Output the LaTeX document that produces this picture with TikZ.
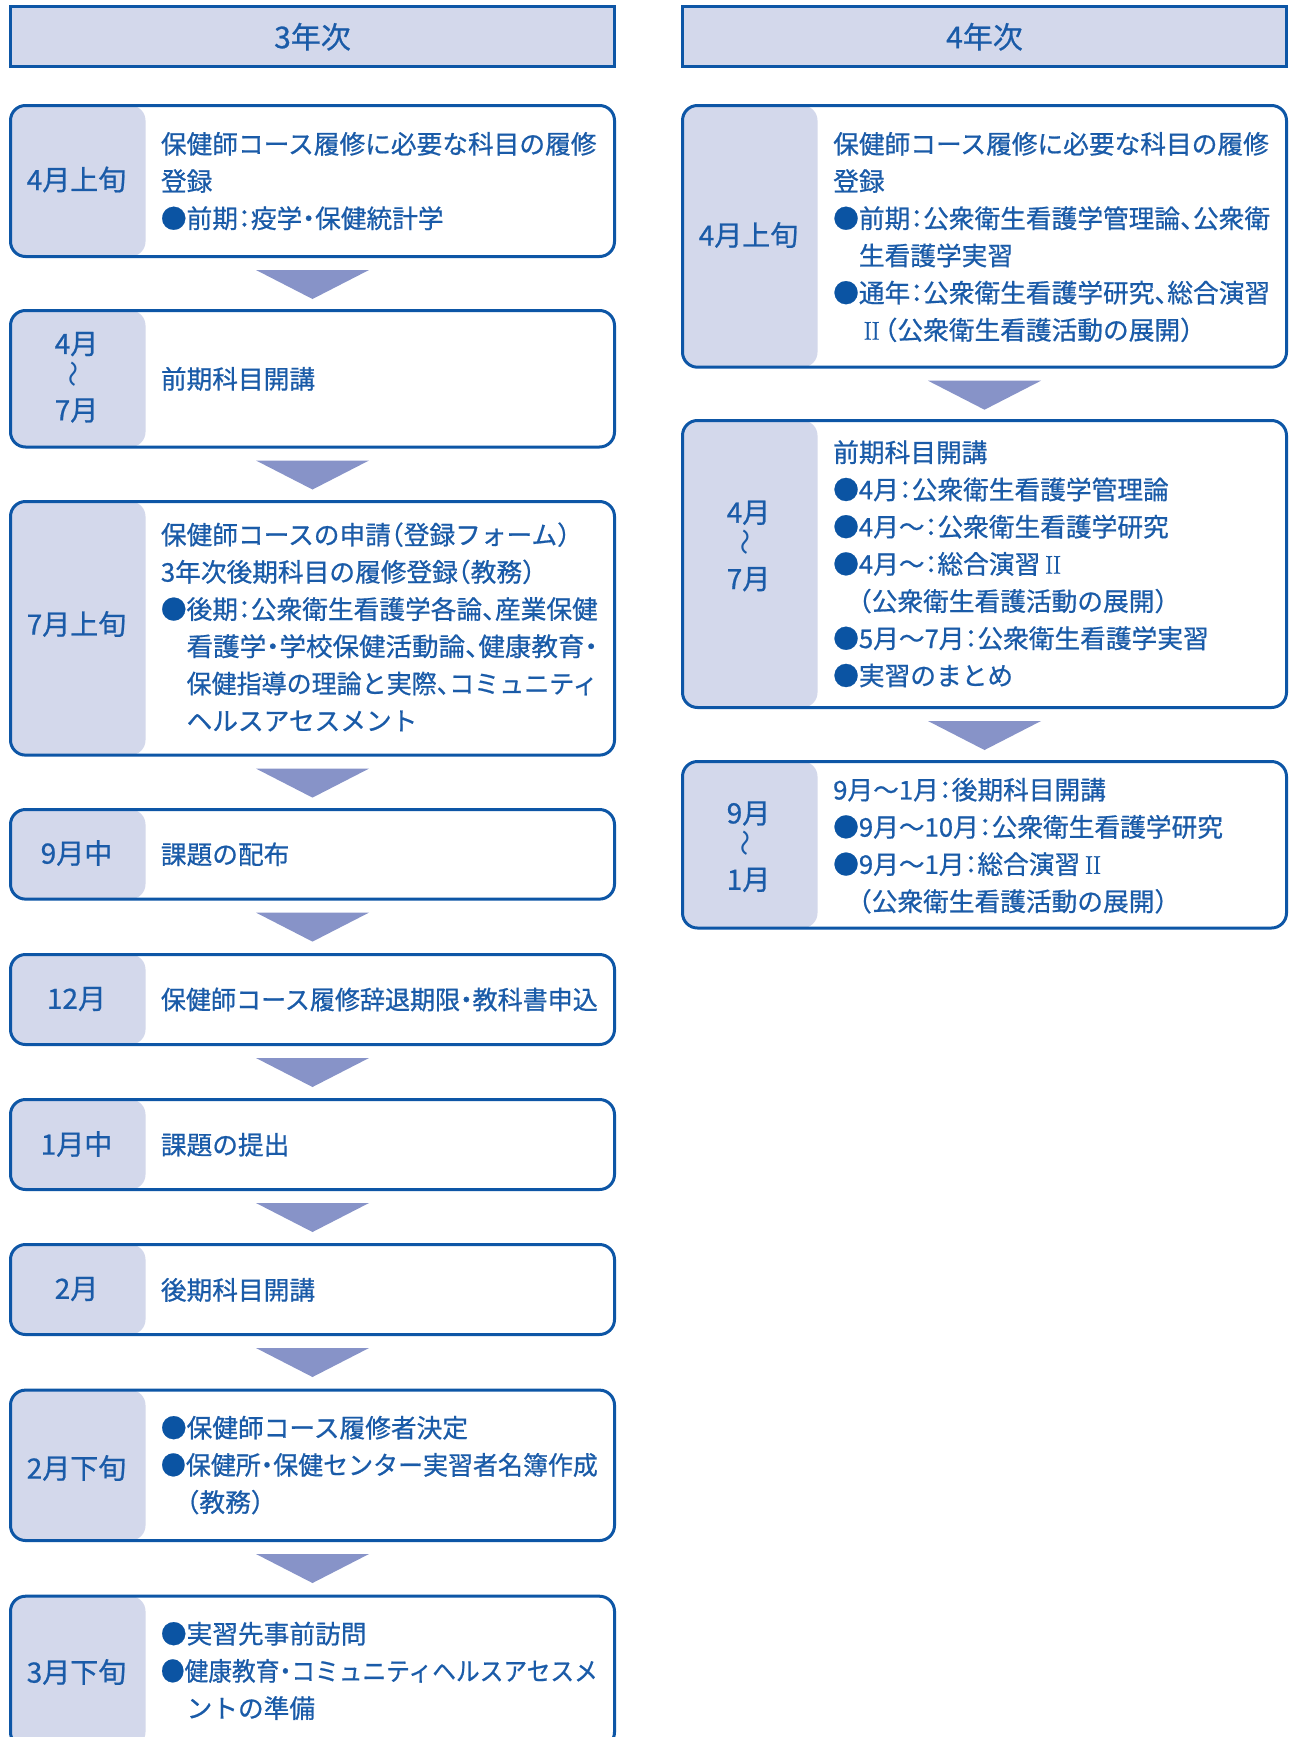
\documentclass[tikz,border=0pt]{standalone}
\usepackage{fontspec}
\setmainfont{Noto Sans CJK JP}[FakeBold=0.7]
\newfontfamily\lmfont{Latin Modern Roman}[FakeBold=0.8]
\newfontfamily\wavefont{Noto Sans CJK JP}
\definecolor{bd}{HTML}{0D56A6}
\definecolor{tx}{HTML}{1A5BA8}
\definecolor{bl}{HTML}{0B54A3}
\definecolor{lf}{HTML}{D3D8EB}
\definecolor{ar}{HTML}{8793C8}
\newcommand\CL{\kern-.25em：\kern-.25em}
\newcommand\TN{、\kern-.5em}
\newcommand\NK{\kern-.25em・\kern-.25em}
\newcommand\LP{\kern-.5em（}
\newcommand\RP{）\kern-.5em}
\newcommand\IND{\phantom{●}}
\newcommand\B{{\color{bl}●}}
\newcommand\RII{\hbox to 1em{\hss{\lmfont I\kern-.02em I}\hss}}
\newcommand\FIT[2]{\resizebox{#1}{\height}{#2}}
\newcommand\WAVE{\rotatebox{90}{\scalebox{0.95}{\wavefont 〜}}}
\tikzset{
  hdr/.style={draw=bd, line width=3pt, fill=lf, minimum width=604pt, minimum height=59.5pt,
    anchor=north west, inner sep=0pt, text=tx, font=\fontsize{30}{36}\selectfont},
  card/.style={draw=bd, line width=3pt, rounded corners=15pt, fill=white, minimum width=604pt,
    anchor=north west, inner sep=0pt,
    path picture={\fill[lf] (path picture bounding box.north west) rectangle
      ([xshift=135pt]path picture bounding box.south west);}},
  lbl/.style={text=tx, font=\fontsize{28}{33.2}\selectfont, align=center, inner sep=0pt},
  body/.style={text=tx, font=\fontsize{25.7}{37.2}\selectfont, align=left, anchor=west, inner sep=0pt},
  tri/.style={fill=ar, draw=none},
}
\begin{document}
\begin{tikzpicture}[x=1pt,y=-1pt]
\clip (0,0) rectangle (1290,1737);
\fill[white] (0,0) rectangle (1290,1737);
% headers
\node[hdr] (H3) at (9,5.5) {3年次};
\node[hdr] (H4) at (681,5.5) {4年次};
% left cards
\node[card, minimum height=151pt]   (L1) at (9,104) {};
\node[card, minimum height=136.5pt] (L2) at (9,309) {};
\node[card, minimum height=253.6pt] (L3) at (9,500) {};
\node[card, minimum height=89.6pt]  (L4) at (9,808) {};
\node[card, minimum height=90pt]    (L5) at (9,953) {};
\node[card, minimum height=90pt]    (L6) at (9,1098) {};
\node[card, minimum height=90pt]    (L7) at (9,1243) {};
\node[card, minimum height=150.4pt] (L8) at (9,1388.6) {};
\node[card, minimum height=151pt]   (L9) at (9,1594.7) {};
% right cards
\node[card, minimum height=261.7pt] (R1) at (681,104) {};
\node[card, minimum height=287pt]   (R2) at (681,419) {};
\node[card, minimum height=166.5pt] (R3) at (681,760) {};
% arrows
\foreach \n in {L1,L2,L3,L4,L5,L6,L7,L8,R1,R2}{
  \fill[tri, shift={(\n.south)}] (-56.5pt,-12pt) -- (56.5pt,-12pt) -- (0pt,-41pt) -- cycle;
}
% left labels
\node[lbl] (L1l) at (76.5,179.5) {4月上旬};
\node[lbl] (L2l) at (76.5,377.3) {4月\\\WAVE\\7月};
\node[lbl] (L3l) at (76.5,624) {7月上旬};
\node[lbl] (L4l) at (76.5,853) {9月中};
\node[lbl] (L5l) at (76.5,999) {12月};
\node[lbl] (L6l) at (76.5,1144) {1月中};
\node[lbl] (L7l) at (76.5,1289) {2月};
\node[lbl] (L8l) at (76.5,1468) {2月下旬};
\node[lbl] (L9l) at (76.5,1672) {3月下旬};
% right labels
\node[lbl] (R1l) at (748.5,235) {4月上旬};
\node[lbl] (R2l) at (748.5,546) {4月\\\WAVE\\7月};
\node[lbl] (R3l) at (748.5,846.7) {9月\\\WAVE\\1月};
% left texts
\node[body] (L1t) at (160.7,183.4) {\strut 保健師コース履修に必要な科目の履修\\
\strut 登録\\
\strut\B 前期\CL 疫学\NK 保健統計学};
\node[body] (L2t) at (160.7,381.2) {\strut 前期科目開講};
\node[body] (L3t) at (160.7,630) {\strut 保健師コースの申請\LP 登録フォーム\RP\\
\strut 3年次後期科目の履修登録\LP 教務\RP\\
\strut\B 後期\CL 公衆衛生看護学各論\TN 産業保健\\
\strut\IND\FIT{16em}{看護学\NK 学校保健活動論\TN 健康教育\NK}\\
\strut\IND\FIT{16em}{保健指導の理論と実際\TN コミュニティ}\\
\strut\IND ヘルスアセスメント};
\node[body] (L4t) at (160.7,856.6) {\strut 課題の配布};
\node[body] (L5t) at (160.7,1001.8) {\strut\FIT{17em}{保健師コース履修辞退期限\NK 教科書申込}};
\node[body] (L6t) at (160.7,1147) {\strut 課題の提出};
\node[body] (L7t) at (160.7,1292.2) {\strut 後期科目開講};
\node[body] (L8t) at (160.7,1467.2) {\strut\B 保健師コース履修者決定\\
\strut\FIT{17em}{\B 保健所\NK 保健センター実習者名簿作成}\\
\strut\IND\LP 教務\RP};
\node[body] (L9t) at (160.7,1673.2) {\strut\B 実習先事前訪問\\
\strut\FIT{17em}{\B 健康教育\NK コミュニティヘルスアセスメ}\\
\strut\IND ントの準備};
% right texts
\node[body] (R1t) at (833,239.2) {\strut 保健師コース履修に必要な科目の履修\\
\strut 登録\\
\strut\B 前期\CL 公衆衛生看護学管理論\TN 公衆衛\\
\strut\IND 生看護学実習\\
\strut\B 通年\CL 公衆衛生看護学研究\TN 総合演習\\
\strut\IND\RII\LP 公衆衛生看護活動の展開\RP};
\node[body] (R2t) at (833,566.2) {\strut 前期科目開講\\
\strut\B 4月\CL 公衆衛生看護学管理論\\
\strut\B 4月〜\CL 公衆衛生看護学研究\\
\strut\B 4月〜\CL 総合演習\RII\\
\strut\IND\LP 公衆衛生看護活動の展開\RP\\
\strut\B 5月〜7月\CL 公衆衛生看護学実習\\
\strut\B 実習のまとめ};
\node[body] (R3t) at (833,847.8) {\strut 9月〜1月\CL 後期科目開講\\
\strut\B 9月〜10月\CL 公衆衛生看護学研究\\
\strut\B 9月〜1月\CL 総合演習\RII\\
\strut\IND\LP 公衆衛生看護活動の展開\RP};
\end{tikzpicture}
\end{document}
